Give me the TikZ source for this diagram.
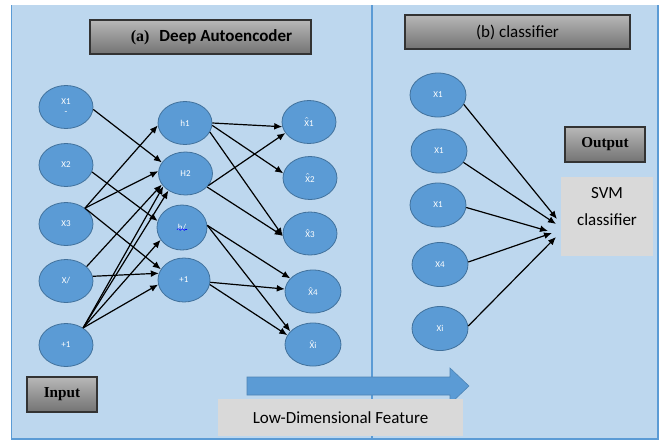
\documentclass[tikz,border=0pt]{standalone}
\usepackage{fontspec}
\setmainfont{Liberation Serif}
\setsansfont{Carlito}
\usepackage{tikz}
\usetikzlibrary{arrows.meta}
\usetikzlibrary{shapes.geometric}
\usetikzlibrary{decorations.pathmorphing}

\definecolor{panelblue}{HTML}{BDD7EE}
\definecolor{edgeblue}{HTML}{5B9BD5}
\definecolor{cellblue}{HTML}{5B9BD5}
\definecolor{cellrim}{HTML}{41719C}
\definecolor{boxgrey}{HTML}{D9D9D9}

\newcommand{\hatX}{$\hat{\mbox{X}}$}

\begin{document}
\begin{tikzpicture}
        [x=0.5pt, y=-0.5pt, >={Latex[length=4pt,width=3.4pt]},
         neuron/.style={ellipse, fill=cellblue, draw=cellrim, line width=0.4pt, inner sep=0pt,
           minimum width=27pt, minimum height=21.5pt, text=white, align=center,
           font=\sffamily\fontsize{4.5}{5}\selectfont},
         hdrbox/.style={rectangle, draw=black!80, line width=0.7pt, top color=black!28,
           bottom color=black!55, inner sep=0pt},
         greybox/.style={rectangle, fill=boxgrey, inner sep=0pt, align=center,
           font=\sffamily\fontsize{8.5}{13.5}\selectfont},
         link/.style={->, line width=0.6pt}]
        \useasboundingbox (0,0) rectangle (665,441);

        % panels
        \fill [panelblue] (11.5,5) rectangle (658,439.5);
        \draw [edgeblue, line width=0.8pt] (11.5,5) -- (11.5,439) -- (658,439) -- (658,5);
        \draw [edgeblue, line width=0.8pt] (372,5) -- (372,439);

        % headings
        \node [hdrbox, minimum width=110.5pt, minimum height=17pt] (titleA) at (200.5,37)
          {\hspace*{11pt}{\rmfamily\bfseries\fontsize{8}{10}\selectfont (a)}\enspace
           {\sffamily\bfseries\fontsize{8.5}{10}\selectfont Deep Autoencoder}};
        \node [hdrbox, minimum width=112.5pt, minimum height=17pt] (titleB) at (517.5,32)
          {\sffamily\fontsize{8.5}{10}\selectfont (b) classifier};
        \node [hdrbox, minimum width=35pt, minimum height=17.5pt] (input) at (62,394.5)
          {\rmfamily\bfseries\fontsize{7.6}{9}\selectfont Input};
        \node [hdrbox, minimum width=40pt, minimum height=17.5pt] (output) at (605,144.5)
          {\rmfamily\bfseries\fontsize{7.6}{9}\selectfont Output};

        % input layer
        \node [neuron] (x1) at (66,107) {X1\\-};
        \node [neuron] (x2) at (66,165) {X2};
        \node [neuron] (x3) at (66,224) {X3};
        \node [neuron] (x4) at (66,281) {X/};
        \node [neuron] (b1) at (66,345) {+1};

        % hidden layer
        \node [neuron] (h1) at (185,123) {h1};
        \node [neuron] (h2) at (185.5,173.5) {H2};
        \node [neuron, minimum width=25pt, minimum height=22.5pt] (h3) at (182,227.5) {h/};
        \node [neuron, minimum width=26pt, minimum height=22pt] (b2) at (184,280) {+1};
        \draw [blue, line width=0.3pt, decorate,
          decoration={snake, amplitude=0.4pt, segment length=2pt}] (177,229.5) -- (187,229.5);

        % output layer
        \node [neuron] (y1) at (309,122) {\hatX1};
        \node [neuron] (y2) at (310,178) {\hatX2};
        \node [neuron] (y3) at (310,233.5) {\hatX3};
        \node [neuron, minimum width=28pt] (y4) at (313,291.5) {\hatX4};
        \node [neuron, minimum width=28pt] (y5) at (313,344.5) {\hatX i};

        % encoder
        \draw [link] (x1.-5) -- (h2.155);
        \draw [link] (x2.-15) -- (h3.165);
        \draw [link] (x3.40) -- (h1.185);
        \draw [link] (x3.40) -- (h2.175);
        \draw [link] (x3.40) -- (b2.155);
        \draw [link] (x4.35) -- (h2.205);
        \draw [link] (x4.10) -- (b2.165);
        \draw [link] (b1.45) -- (h2.210);
        \draw [link] (b1.45) -- (h2.225);
        \draw [link] (b1.45) -- (h3.210);
        \draw [link] (b1.45) -- (b2.190);

        % decoder
        \draw [link] (h1.0) -- (y1.190);
        \draw [link] (h1.-5) -- (y2.170);
        \draw [link] (h1.-20) -- (y3.185);
        \draw [link] (h2.-28) -- (y1.205);
        \draw [link] (h2.-32) -- (y3.185);
        \draw [link] (h3.5) -- (y4.150);
        \draw [link] (h3.5) -- (y5.150);
        \draw [link] (b2.-5) -- (y4.175);
        \draw [link] (b2.-10) -- (y5.160);

        % classifier
        \node [neuron, minimum width=28pt, minimum height=22pt] (c1) at (438,95) {X1};
        \node [neuron, minimum width=28pt, minimum height=22pt] (c2) at (439,151) {X1};
        \node [neuron, minimum width=28pt, minimum height=22pt] (c3) at (438,205) {X1};
        \node [neuron, minimum width=28pt, minimum height=22pt] (c4) at (440,264.5) {X4};
        \node [neuron, minimum width=28pt, minimum height=22pt] (c5) at (440,328.5) {Xi};

        \node [greybox, minimum width=46pt, minimum height=39.5pt] (svm) at (607,216.5)
          {SVM\\classifier\\[-3pt]\mbox{}};

        \coordinate (svmin1) at (557,219);
        \coordinate (svmin2) at (556,224);
        \coordinate (svmin3) at (548,231);
        \coordinate (svmin4) at (552,233);
        \coordinate (svmin5) at (556,237);

        \draw [link] (c1.-20) -- (svmin1);
        \draw [link] (c2.-25) -- (svmin2);
        \draw [link] (c3.-5) -- (svmin3);
        \draw [link] (c4.5) -- (svmin4);
        \draw [link] (c5.5) -- (svmin5);

        % feature arrow
        \filldraw [fill=cellblue, draw=edgeblue!85!black, line width=0.3pt]
          (247,377) -- (450,377) -- (450,368) -- (469,386) -- (450,404) -- (450,395) -- (247,395) -- cycle;
        \node [greybox, minimum width=122.5pt, minimum height=18.5pt] (lowdim) at (340.5,417.5)
          {Low-Dimensional Feature};
\end{tikzpicture}
\end{document}
